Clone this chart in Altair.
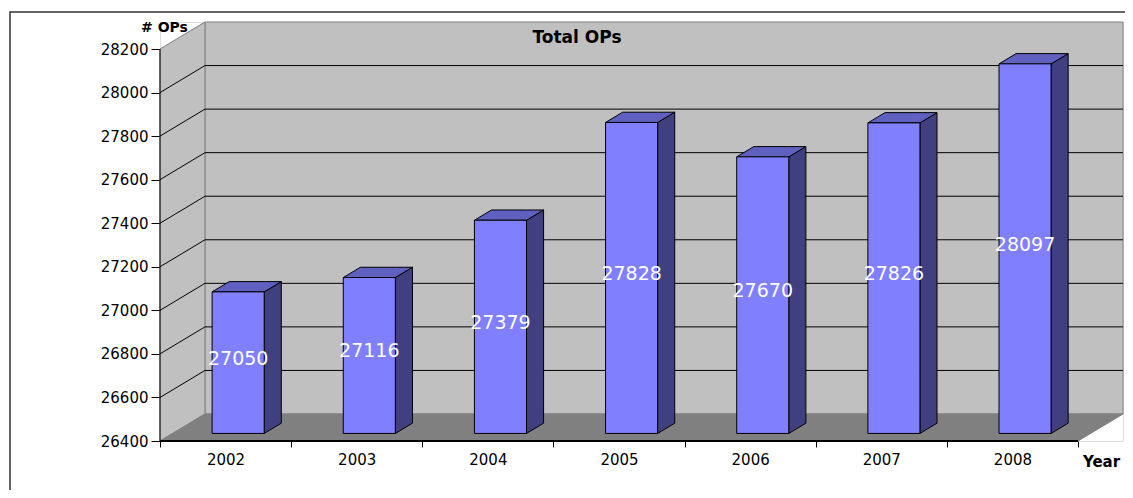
import altair as alt
import pandas as pd

# ---- data ----
years = ["2002", "2003", "2004", "2005", "2006", "2007", "2008"]
ops = [27050, 27116, 27379, 27828, 27670, 27826, 28097]
y_ticks = [26400, 26600, 26800, 27000, 27200, 27400, 27600, 27800, 28000, 28200]
chart_title = "Total OPs"
y_title = "# OPs"
x_title = "Year"

# ---- 3D geometry (in data units) ----
Y_MIN, Y_MAX = y_ticks[0], y_ticks[-1]
N = len(years)
DX = 0.343      # depth of the plot box along x (categories)
DY = 124.0      # depth of the plot box along y (value units)
F1 = 0.28       # depth fraction of bar front face
FD = 0.38       # depth fraction of bar thickness
BW = 0.397      # bar width (categories)

W, H = 963, 419

FONT = "DejaVu Sans"
FRONT = "#8080FF"
SIDE = "#404080"
TOP = "#6060C0"
WALL = "#C0C0C0"
FLOOR = "#808080"

xs = alt.Scale(domain=[0, N + DX], nice=False, zero=False)
ys = alt.Scale(domain=[Y_MIN, Y_MAX + DY], nice=False, zero=False)

label_expr = "datum.value < %d ? %s[round(datum.value)] : ''" % (N, str(years))
x_axis = alt.Axis(values=list(range(N + 1)), labelExpr=label_expr, labelOffset=W / (N + DX) / 2,
                  labelFlush=False, labelOverlap=False, labelBound=False, grid=False, domain=False,
                  tickSize=6, tickColor="black", labelPadding=5, labelFont=FONT, labelFontSize=15,
                  labelColor="black", title=x_title, titleFont=FONT, titleFontSize=15,
                  titleFontWeight="bold", titleColor="black", titleAngle=0, titleX=941, titleY=20,
                  titleAlign="center", titleBaseline="middle")
y_axis = alt.Axis(values=y_ticks, format="d", grid=False, domain=False, tickSize=9, tickColor="black",
                  labelPadding=3, labelFont=FONT, labelFontSize=15, labelColor="black",
                  title=y_title, titleFont=FONT, titleFontSize=14, titleFontWeight="bold",
                  titleColor="black", titleAngle=0, titleX=4, titleY=5, titleAlign="center",
                  titleBaseline="middle")

X = alt.X("x:Q", scale=xs, axis=x_axis)
Y = alt.Y("y:Q", scale=ys, axis=y_axis, stack=None)

# back wall
back_df = pd.DataFrame([{"x": DX, "x2": N + DX, "y": Y_MIN + DY, "y2": Y_MAX + DY}])
back = alt.Chart(back_df).mark_rect(fill=WALL, stroke="#808080", strokeWidth=1).encode(
    x=X, x2="x2:Q", y=Y, y2="y2:Q")

# left wall (parallelogram)
left_df = pd.DataFrame([
    {"id": "w", "x": 0.0, "y": Y_MIN, "y2": Y_MAX},
    {"id": "w", "x": DX, "y": Y_MIN + DY, "y2": Y_MAX + DY},
])
left = alt.Chart(left_df).mark_area(fill=WALL, stroke="#808080", strokeWidth=1).encode(
    x=X, y=Y, y2="y2:Q", detail="id:N")

# gridlines
grid_vals = y_ticks[1:-1]
bgrid_df = pd.DataFrame({"x": [DX] * len(grid_vals), "x2": [N + DX] * len(grid_vals),
                         "y": [v + DY for v in grid_vals]})
bgrid = alt.Chart(bgrid_df).mark_rule(color="black", strokeWidth=1).encode(
    x=X, x2="x2:Q", y=Y)
lgrid_df = pd.DataFrame({"x": [0.0] * len(grid_vals), "x2": [DX] * len(grid_vals),
                         "y": grid_vals, "y2": [v + DY for v in grid_vals]})
lgrid = alt.Chart(lgrid_df).mark_rule(color="black", strokeWidth=1).encode(
    x=X, x2="x2:Q", y=Y, y2="y2:Q")

# floor
floor_df = pd.DataFrame([
    {"id": "f", "x": 0.0, "y": Y_MIN, "y2": Y_MIN},
    {"id": "f", "x": DX, "y": Y_MIN, "y2": Y_MIN + DY},
    {"id": "f", "x": float(N), "y": Y_MIN, "y2": Y_MIN + DY},
    {"id": "f", "x": N + DX, "y": Y_MIN + DY, "y2": Y_MIN + DY},
])
floor = alt.Chart(floor_df).mark_area(fill=FLOOR, stroke="#808080", strokeWidth=1).encode(
    x=X, y=Y, y2="y2:Q", detail="id:N")

# axis lines (front plane)
yline = alt.Chart(pd.DataFrame([{"x": 0.0, "y": Y_MIN, "y2": Y_MAX}])).mark_rule(
    color="black", strokeWidth=1).encode(x=X, y=Y, y2="y2:Q")
xline = alt.Chart(pd.DataFrame([{"x": 0.0, "x2": float(N), "y": Y_MIN}])).mark_rule(
    color="black", strokeWidth=2).encode(x=X, x2="x2:Q", y=Y)

# bars
front_rows, side_rows, top_rows, lab_rows = [], [], [], []
ddx, ddy = FD * DX, FD * DY
for i, (yr, v) in enumerate(zip(years, ops)):
    cx = i + 0.5 + F1 * DX
    xl, xr = cx - BW / 2, cx + BW / 2
    yb, yt = Y_MIN + F1 * DY, v + F1 * DY
    front_rows.append({"x": xl, "x2": xr, "y": yb, "y2": yt})
    side_rows += [{"id": yr, "x": xr, "y": yb, "y2": yt},
                  {"id": yr, "x": xr + ddx, "y": yb + ddy, "y2": yt + ddy}]
    top_rows += [{"id": yr, "x": xl, "y": yt, "y2": yt},
                 {"id": yr, "x": xl + ddx, "y": yt, "y2": yt + ddy},
                 {"id": yr, "x": xr, "y": yt, "y2": yt + ddy},
                 {"id": yr, "x": xr + ddx, "y": yt + ddy, "y2": yt + ddy}]
    lab_rows.append({"x": cx, "y": (yb + yt) / 2, "t": str(v)})

sides = alt.Chart(pd.DataFrame(side_rows)).mark_area(fill=SIDE, stroke="black", strokeWidth=1).encode(
    x=X, y=Y, y2="y2:Q", detail="id:N")
tops = alt.Chart(pd.DataFrame(top_rows)).mark_area(fill=TOP, stroke="black", strokeWidth=1).encode(
    x=X, y=Y, y2="y2:Q", detail="id:N")
fronts = alt.Chart(pd.DataFrame(front_rows)).mark_rect(fill=FRONT, stroke="black", strokeWidth=1).encode(
    x=X, x2="x2:Q", y=Y, y2="y2:Q")
labels = alt.Chart(pd.DataFrame(lab_rows)).mark_text(
    color="white", font=FONT, fontSize=19, baseline="middle", align="center", dy=-4).encode(
    x=X, y=Y, text="t:N")

# chart title placed inside the back wall
title = alt.Chart(pd.DataFrame([{"t": chart_title}])).mark_text(
    font=FONT, fontSize=17, fontWeight="bold", color="black", align="center", baseline="middle").encode(
    x=alt.value(417), y=alt.value(16), text="t:N")

# outer frame of the chart area
frame = alt.Chart(pd.DataFrame([{"a": 1}])).mark_rect(
    fillOpacity=0, stroke="#333333", strokeWidth=1.5).encode(
    x=alt.value(-150), x2=alt.value(990), y=alt.value(-10), y2=alt.value(495))

chart = alt.layer(back, left, bgrid, lgrid, floor, yline, xline, sides, tops, fronts, labels,
                  title, frame).properties(
    width=W, height=H,
    autosize=alt.AutoSizeParams(type="none"),
    padding={"left": 152, "top": 14, "right": 2, "bottom": 49},
).configure_view(stroke=None).configure(background="white")

chart.save("out.html", embed_options={"renderer": "svg", "actions": False})
